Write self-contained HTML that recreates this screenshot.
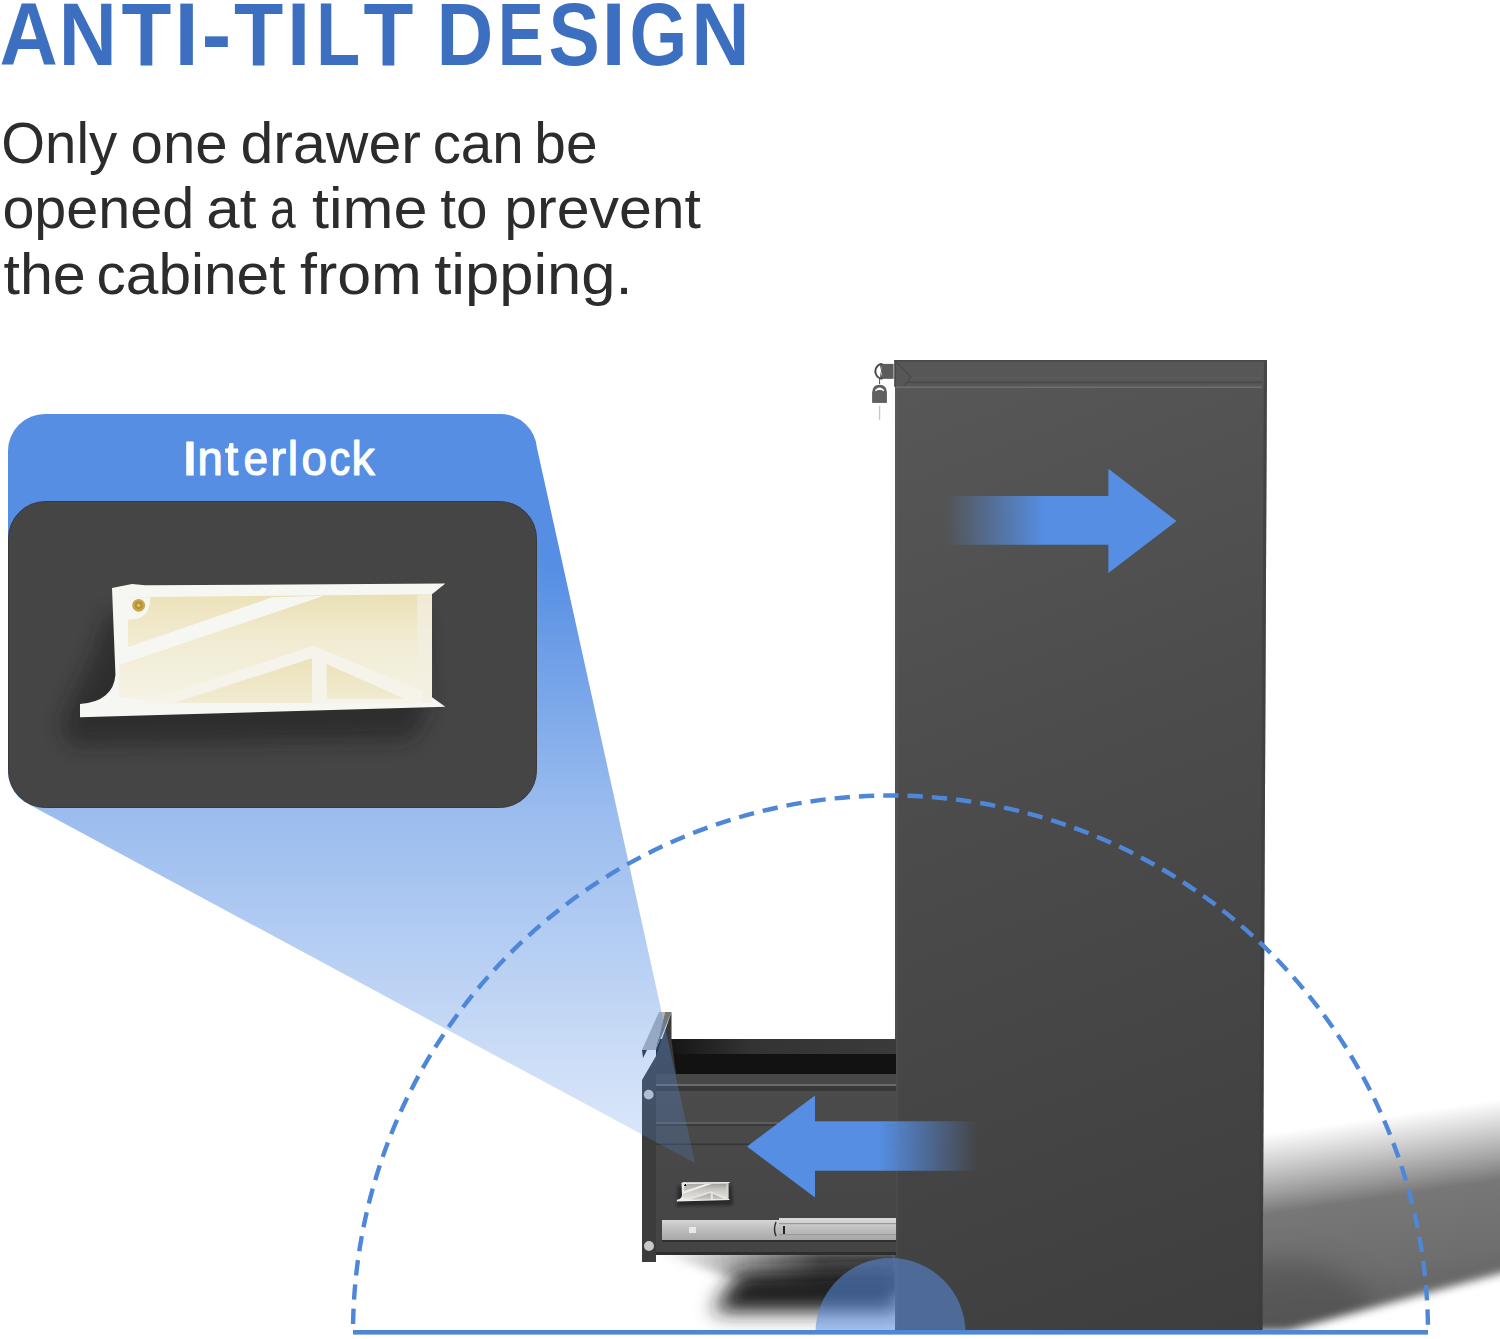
<!DOCTYPE html>
<html><head><meta charset="utf-8">
<style>
html,body{margin:0;padding:0;background:#fff;width:1500px;height:1339px;overflow:hidden}
svg{display:block}
text{font-family:"Liberation Sans",sans-serif}
</style></head>
<body>
<svg width="1500" height="1339" viewBox="0 0 1500 1339">
<defs>
  <linearGradient id="beam" x1="0" y1="414" x2="0" y2="1165" gradientUnits="userSpaceOnUse">
    <stop offset="0" stop-color="#558ee3" stop-opacity="1"/>
    <stop offset="0.2" stop-color="#558ee3" stop-opacity="1"/>
    <stop offset="0.514" stop-color="#558ee3" stop-opacity="0.61"/>
    <stop offset="0.9" stop-color="#558ee3" stop-opacity="0.265"/>
    <stop offset="1" stop-color="#558ee3" stop-opacity="0.2"/>
  </linearGradient>
  <linearGradient id="cab" x1="895" y1="360" x2="1267" y2="1329" gradientUnits="userSpaceOnUse">
    <stop offset="0" stop-color="#585858"/>
    <stop offset="0.4" stop-color="#4c4c4c"/>
    <stop offset="1" stop-color="#3e3e3e"/>
  </linearGradient>
  <linearGradient id="arrR" x1="945" y1="0" x2="1045" y2="0" gradientUnits="userSpaceOnUse">
    <stop offset="0" stop-color="#558ee3" stop-opacity="0"/>
    <stop offset="1" stop-color="#558ee3" stop-opacity="1"/>
  </linearGradient>
  <linearGradient id="arrL" x1="978" y1="0" x2="878" y2="0" gradientUnits="userSpaceOnUse">
    <stop offset="0" stop-color="#558ee3" stop-opacity="0"/>
    <stop offset="1" stop-color="#558ee3" stop-opacity="1"/>
  </linearGradient>
  <linearGradient id="drw" x1="0" y1="1040" x2="0" y2="1255" gradientUnits="userSpaceOnUse">
    <stop offset="0" stop-color="#4d4d4d"/>
    <stop offset="1" stop-color="#444444"/>
  </linearGradient>
  <linearGradient id="drwTop" x1="671" y1="0" x2="895" y2="0" gradientUnits="userSpaceOnUse">
    <stop offset="0" stop-color="#151515"/>
    <stop offset="0.35" stop-color="#333333"/>
    <stop offset="1" stop-color="#3a3a3a"/>
  </linearGradient>
  <linearGradient id="rail" x1="0" y1="1219" x2="0" y2="1240" gradientUnits="userSpaceOnUse">
    <stop offset="0" stop-color="#d8d8d8"/>
    <stop offset="0.5" stop-color="#bdbdbd"/>
    <stop offset="1" stop-color="#a8a8a8"/>
  </linearGradient>
  <linearGradient id="cream" x1="0" y1="590" x2="0" y2="710" gradientUnits="userSpaceOnUse">
    <stop offset="0" stop-color="#e6ddb0"/>
    <stop offset="1" stop-color="#efe8c8"/>
  </linearGradient>
  <linearGradient id="creamA" x1="0" y1="140" x2="0" y2="325" gradientUnits="userSpaceOnUse">
    <stop offset="0" stop-color="#ece3bb"/><stop offset="1" stop-color="#f2ecd5"/>
  </linearGradient>
  <linearGradient id="creamB" x1="0" y1="130" x2="0" y2="530" gradientUnits="userSpaceOnUse">
    <stop offset="0" stop-color="#eae0b4"/><stop offset="0.35" stop-color="#f0eacf"/><stop offset="1" stop-color="#f5f3e6"/>
  </linearGradient>
  <linearGradient id="creamC" x1="0" y1="370" x2="0" y2="535" gradientUnits="userSpaceOnUse">
    <stop offset="0" stop-color="#ebe2b9"/><stop offset="1" stop-color="#f1ebd2"/>
  </linearGradient>
  <linearGradient id="shUp" x1="1373" y1="1118" x2="1404" y2="1326" gradientUnits="userSpaceOnUse">
    <stop offset="0" stop-color="#8a8a8a" stop-opacity="0"/>
    <stop offset="0.2" stop-color="#858585" stop-opacity="0.55"/>
    <stop offset="0.38" stop-color="#777777" stop-opacity="1"/>
    <stop offset="0.7" stop-color="#6e6e6e" stop-opacity="1"/>
    <stop offset="1" stop-color="#5e5e5e" stop-opacity="1"/>
  </linearGradient>
  <mask id="shLowMask" maskUnits="userSpaceOnUse" x="1200" y="1000" width="300" height="339">
    <path d="M1200,1000 H1520 V1268 L1287,1331 H1200 Z" fill="#fff" filter="url(#blur4)"/>
  </mask>
  <filter id="blur15" x="-50%" y="-50%" width="200%" height="200%"><feGaussianBlur stdDeviation="14"/></filter>
  <linearGradient id="dshTop" x1="660" y1="0" x2="820" y2="0" gradientUnits="userSpaceOnUse"><stop offset="0" stop-color="#555" stop-opacity="0"/><stop offset="1" stop-color="#4a4a4a" stop-opacity="1"/></linearGradient>
  <filter id="blur10" x="-50%" y="-50%" width="200%" height="200%"><feGaussianBlur stdDeviation="10"/></filter>
  <filter id="blur8" x="-50%" y="-50%" width="200%" height="200%"><feGaussianBlur stdDeviation="8"/></filter>
  <filter id="blur4" x="-50%" y="-50%" width="200%" height="200%"><feGaussianBlur stdDeviation="4"/></filter>
  <filter id="blur2" x="-50%" y="-50%" width="200%" height="200%"><feGaussianBlur stdDeviation="1.5"/></filter>
  <clipPath id="rightOfCab"><path d="M1267,0 H1500 V1330 H1262 Z"/></clipPath>
  <clipPath id="belowDrawer"><rect x="600" y="1255" width="296" height="76"/></clipPath>
  <clipPath id="calloutClip"><rect x="8" y="501" width="529" height="307" rx="37" ry="37"/></clipPath>
  <g id="ilk">
  <path d="M195,105 L270,90 L320,95 L1445,88 L1395,128 L1395,515 L1445,550 L75,590 L75,540 Q200,530 208,430 Z" fill="#f6f6f2"/>
  <path d="M255,140 L1395,128 L1395,535 L430,537 L222,515 L222,392 L255,330 Z" fill="url(#creamB)"/>
  <path d="M1340,130 L1395,128 L1395,535 L1340,535 Z" fill="#f2efe2" opacity="0.7"/>
  <path d="M300,537 L950,322 L1360,492 L1360,537 Z" fill="#f5f3ea"/>
  <path d="M795,140 L990,134 L222,394 L255,326 Z" fill="#f6f6f2"/>
  <path d="M255,140 L340,140 Q340,228 255,225 Z" fill="#f6f6f2"/>
  <path d="M340,140 L795,140 L255,325 L255,225 Q340,228 340,140 Z" fill="url(#creamA)"/>
  <path d="M430,535 L945,368 L945,535 Z" fill="url(#creamC)"/>
  <path d="M1000,390 L1000,520 L1290,520 Z" fill="url(#creamC)"/>
  <circle cx="295" cy="170" r="24" fill="#c9a646"/>
  <circle cx="295" cy="170" r="14" fill="#b38f35"/>
  <circle cx="295" cy="170" r="7" fill="#d8bc62"/>
</g>
  <filter id="gray"><feColorMatrix type="saturate" values="0.05"/><feComponentTransfer><feFuncR type="linear" slope="3" intercept="-1.9"/><feFuncG type="linear" slope="3" intercept="-1.9"/><feFuncB type="linear" slope="3" intercept="-1.9"/></feComponentTransfer></filter>
</defs>

<!-- Title -->
<text transform="translate(-0.50,64.90) scale(0.9012,1)" font-size="89.6" font-weight="bold" fill="#3d6fc0">A</text>
<text transform="translate(58.69,64.90) scale(0.8978,1)" font-size="89.6" font-weight="bold" fill="#3d6fc0">N</text>
<text transform="translate(121.42,64.90) scale(0.9111,1)" font-size="89.6" font-weight="bold" fill="#3d6fc0">T</text>
<text transform="translate(174.56,64.90) scale(0.9708,1)" font-size="89.6" font-weight="bold" fill="#3d6fc0">I</text>
<text transform="translate(201.59,64.90) scale(1.0027,1)" font-size="89.6" font-weight="bold" fill="#3d6fc0">-</text>
<text transform="translate(234.03,64.90) scale(0.8997,1)" font-size="89.6" font-weight="bold" fill="#3d6fc0">T</text>
<text transform="translate(287.08,64.90) scale(0.9326,1)" font-size="89.6" font-weight="bold" fill="#3d6fc0">I</text>
<text transform="translate(316.02,64.90) scale(0.8077,1)" font-size="89.6" font-weight="bold" fill="#3d6fc0">L</text>
<text transform="translate(363.52,64.90) scale(0.9111,1)" font-size="89.6" font-weight="bold" fill="#3d6fc0">T</text>
<text transform="translate(436.51,64.90) scale(0.8780,1)" font-size="89.6" font-weight="bold" fill="#3d6fc0">D</text>
<text transform="translate(497.83,64.90) scale(0.7725,1)" font-size="89.6" font-weight="bold" fill="#3d6fc0">E</text>
<text transform="translate(548.39,64.90) scale(0.8585,1)" font-size="89.6" font-weight="bold" fill="#3d6fc0">S</text>
<text transform="translate(601.56,64.90) scale(0.9708,1)" font-size="89.6" font-weight="bold" fill="#3d6fc0">I</text>
<text transform="translate(629.53,64.90) scale(0.8288,1)" font-size="89.6" font-weight="bold" fill="#3d6fc0">G</text>
<text transform="translate(691.17,64.90) scale(0.9016,1)" font-size="89.6" font-weight="bold" fill="#3d6fc0">N</text>
<text transform="translate(1.30,162.60) scale(0.9970,1)" font-size="56.5" fill="#2c2c2c">Only</text>
<text transform="translate(130.56,162.60) scale(1.0293,1)" font-size="56.5" fill="#2c2c2c">one</text>
<text transform="translate(240.52,162.60) scale(1.0449,1)" font-size="56.5" fill="#2c2c2c">drawer</text>
<text transform="translate(432.63,162.60) scale(0.9990,1)" font-size="56.5" fill="#2c2c2c">can</text>
<text transform="translate(534.37,162.60) scale(1.0048,1)" font-size="56.5" fill="#2c2c2c">be</text>
<text transform="translate(2.38,228.00) scale(1.0181,1)" font-size="56.5" fill="#2c2c2c">opened</text>
<text transform="translate(206.27,228.00) scale(1.0656,1)" font-size="56.5" fill="#2c2c2c">at</text>
<text transform="translate(270.06,228.00) scale(0.8161,1)" font-size="56.5" fill="#2c2c2c">a</text>
<text transform="translate(311.94,228.00) scale(1.0820,1)" font-size="56.5" fill="#2c2c2c">time</text>
<text transform="translate(440.21,228.00) scale(1.0010,1)" font-size="56.5" fill="#2c2c2c">to</text>
<text transform="translate(504.23,228.00) scale(1.0438,1)" font-size="56.5" fill="#2c2c2c">prevent</text>
<text transform="translate(3.47,293.70) scale(1.0484,1)" font-size="56.5" fill="#2c2c2c">the</text>
<text transform="translate(96.54,293.70) scale(1.0372,1)" font-size="56.5" fill="#2c2c2c">cabinet</text>
<text transform="translate(299.95,293.70) scale(1.0793,1)" font-size="56.5" fill="#2c2c2c">from</text>
<text transform="translate(434.14,293.70) scale(1.0899,1)" font-size="56.5" fill="#2c2c2c">tipping.</text>

<!-- Cabinet shadow (right) -->
<g clip-path="url(#rightOfCab)" mask="url(#shLowMask)">
  <rect x="1250" y="1050" width="250" height="290" fill="url(#shUp)"/>
  <ellipse cx="1285" cy="1320" rx="90" ry="60" fill="#4a4a4a" filter="url(#blur15)" opacity="0.55"/>
</g>

<!-- Drawer shadow -->
<g clip-path="url(#belowDrawer)">
  <path d="M650,1250 L900,1250 L900,1292 L760,1288 Z" fill="url(#dshTop)" filter="url(#blur4)"/>
  <path d="M738,1274 L900,1270 L900,1312 L712,1312 Z" fill="#1a1a1a" filter="url(#blur10)"/>
</g>

<!-- Cabinet -->
<path d="M895,360 H1267 L1262.5,1330 H895 Z" fill="url(#cab)"/>
<rect x="895" y="360" width="3" height="969" fill="#666" opacity="0.2"/>
<!-- lid -->
<rect x="894.4" y="360" width="372.6" height="26.6" fill="#575757"/>
<rect x="894.4" y="360" width="372.6" height="1.6" fill="#4a4a4a"/>
<rect x="910" y="377.4" width="352" height="1.2" fill="#5f5f5f"/>
<rect x="908" y="381.6" width="354" height="1.6" fill="#4a4a4a"/>
<rect x="896" y="386.4" width="366" height="1.6" fill="#6e6e6e"/>
<rect x="894.4" y="360" width="1.6" height="26.6" fill="#4a4a4a"/>
<path d="M896,362 L911,377 L904,386" stroke="#4c4c4c" stroke-width="1.3" fill="none"/>
<path d="M1264,362 H1267 L1262.5,1330 H1258.5 Z" fill="#3c3c3c" opacity="0.6"/>
<!-- padlock -->
<g transform="translate(860,340) scale(0.07468)">
  <rect x="270" y="320" width="180" height="200" fill="#5c5c5c"/>
  <path d="M300,320 A95,100 0 0 0 300,520" fill="none" stroke="#444" stroke-width="26"/>
  <path d="M290,350 Q240,420 300,490 Q270,420 290,350 Z" fill="#ffffff"/>
  <path d="M262,520 V590" stroke="#555" stroke-width="14"/>
  <path d="M165,840 V700 Q165,605 262,600 Q358,605 358,700 V840 Z" fill="#5e5e5e"/>
  <path d="M205,665 Q262,610 320,665 L320,690 Q262,650 205,690 Z" fill="#ffffff"/>
  <rect x="165" y="690" width="193" height="150" fill="#606060"/>
  <path d="M262,880 V1070" stroke="#c8c8c8" stroke-width="18"/>
</g>

<!-- Drawer -->
<rect x="656" y="1040" width="240" height="215" fill="url(#drw)"/>
<rect x="656" y="1039" width="240" height="15" fill="url(#drwTop)"/>
<rect x="656" y="1054" width="240" height="20" fill="#121212"/>
<rect x="656" y="1074" width="240" height="10" fill="#474747"/>
<rect x="656" y="1084" width="240" height="2" fill="#6a6a6a"/>
<rect x="656" y="1086" width="240" height="5" fill="#383838"/>
<rect x="656" y="1122" width="240" height="2" fill="#5e5e5e"/>
<rect x="656" y="1124" width="240" height="2" fill="#3a3a3a"/>
<rect x="656" y="1143.5" width="240" height="1.6" fill="#363636"/>
<rect x="656" y="1252" width="240" height="3" fill="#2e2e2e"/>
<!-- front panel & lip -->
<path d="M642,1080 L656,1056 V1262 H642 Z" fill="#3c3c3c"/>
<path d="M656,1056 L671.5,1012 V1040 L676,1074 H656 Z" fill="#3a3a3a"/>
<path d="M642,1050 L659,1012 H665 L656,1050 Z" fill="#b4b4b4"/><path d="M665,1012 H671.5 L656,1050 Z" fill="#777"/>
<path d="M642,1050 H647 L643,1058 Z" fill="#222"/>
<circle cx="648.7" cy="1094.6" r="4.9" fill="#d0d0d0"/>
<circle cx="649" cy="1246" r="5" fill="#c8c8c8"/>
<!-- small interlock on drawer -->
<path d="M678,1186 L731,1185 L733,1205 L677,1206 Z" fill="#1a1a1a" filter="url(#blur2)" opacity="0.7"/>
<use href="#ilk" transform="translate(673.9,1178.6) scale(0.039)" filter="url(#gray)"/>

<!-- rail -->
<rect x="662" y="1220" width="117" height="20" fill="url(#rail)"/>
<rect x="779" y="1218" width="117" height="22" fill="url(#rail)"/>
<rect x="779" y="1223" width="117" height="1.2" fill="#9a9a9a"/>
<rect x="779" y="1234" width="117" height="1.2" fill="#9a9a9a"/>
<rect x="689" y="1227" width="7" height="6" fill="#e8e8e8"/>
<path d="M776,1222 Q773,1229 776,1236" stroke="#333" stroke-width="1.5" fill="none"/>
<rect x="783" y="1226" width="2" height="8" fill="#222"/>
<rect x="662" y="1240" width="234" height="2" fill="#222" opacity="0.6"/>

<!-- Callout beam -->
<path d="M45,414 H500 A37,37 0 0 1 537,448 L695,1163 L30,805 A37,37 0 0 1 8,771 V451 A37,37 0 0 1 45,414 Z" fill="url(#beam)"/>
<rect x="8.5" y="501.5" width="528" height="306" rx="37" ry="37" fill="#454545" stroke="#3a3a3a" stroke-width="1"/>

<text transform="translate(181.23,475.10) scale(1.2941,1)" font-size="48.5" fill="#ffffff" stroke="#ffffff" stroke-width="1.2" stroke-linejoin="round">I</text>
<text transform="translate(197.59,475.10) scale(0.9390,1)" font-size="48.5" fill="#ffffff" stroke="#ffffff" stroke-width="1.2" stroke-linejoin="round">n</text>
<text transform="translate(224.93,475.10) scale(0.9907,1)" font-size="48.5" fill="#ffffff" stroke="#ffffff" stroke-width="1.2" stroke-linejoin="round">t</text>
<text transform="translate(243.54,475.10) scale(0.9125,1)" font-size="48.5" fill="#ffffff" stroke="#ffffff" stroke-width="1.2" stroke-linejoin="round">e</text>
<text transform="translate(270.13,475.10) scale(0.9897,1)" font-size="48.5" fill="#ffffff" stroke="#ffffff" stroke-width="1.2" stroke-linejoin="round">r</text>
<text transform="translate(287.73,475.10) scale(0.9606,1)" font-size="48.5" fill="#ffffff" stroke="#ffffff" stroke-width="1.2" stroke-linejoin="round">l</text>
<text transform="translate(301.38,475.10) scale(0.9436,1)" font-size="48.5" fill="#ffffff" stroke="#ffffff" stroke-width="1.2" stroke-linejoin="round">o</text>
<text transform="translate(329.46,475.10) scale(0.8543,1)" font-size="48.5" fill="#ffffff" stroke="#ffffff" stroke-width="1.2" stroke-linejoin="round">c</text>
<text transform="translate(351.44,475.10) scale(0.9593,1)" font-size="48.5" fill="#ffffff" stroke="#ffffff" stroke-width="1.2" stroke-linejoin="round">k</text>
<!-- interlock part -->
<g clip-path="url(#calloutClip)">
  <path d="M96,650 L108,615 L420,605 L428,712 L410,740 L70,745 L62,722 Z" fill="#1e1e1e" filter="url(#blur10)" opacity="0.55"/>
</g>
<use href="#ilk" transform="translate(60,560) scale(0.26667)"/>

<!-- arrows -->
<path d="M944,496 H1108.4 V468.8 L1176.5,521 L1108.4,573 V544.7 H944 Z" fill="url(#arrR)"/>
<path d="M979,1121.3 H815 V1095.5 L747,1146.5 L815,1197.5 V1170.7 H979 Z" fill="url(#arrL)"/>

<!-- arc -->
<path d="M353,1333 A537.5,537.5 0 0 1 1428,1333" fill="none" stroke="#4f87d8" stroke-width="4.4" stroke-dasharray="15.33 9.02" stroke-dashoffset="15.33"/>
<path d="M815.5,1333 A75,75 0 0 1 965.5,1333 Z" fill="#5a8de0" fill-opacity="0.55"/>
<rect x="353" y="1330" width="1075" height="4.6" fill="#4f86d6"/>
</svg>
</body></html>
